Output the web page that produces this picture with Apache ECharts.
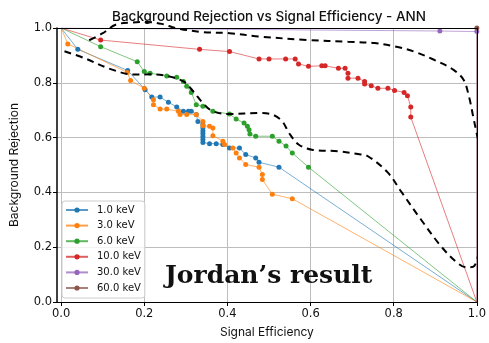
<!DOCTYPE html>
<html><head><meta charset="utf-8">
<script src="https://cdn.jsdelivr.net/npm/echarts@6/dist/echarts.min.js"></script>
<style>html,body{margin:0;padding:0;background:#fff}#c{width:489px;height:343px}</style>
</head><body><div id="c"></div>
<script>
var seriesNames = ['1.0 keV','3.0 keV','6.0 keV','10.0 keV','30.0 keV','60.0 keV'];
var seriesColors = ['#1f77b4','#ff7f0e','#2ca02c','#d62728','#9467bd','#8c564b'];
var xTicks = [0,0.2,0.4,0.6,0.8,1.0];

var data1 = [[0,1],[0.04,0.922],[0.16,0.845],[0.202,0.775],[0.218,0.748],[0.238,0.748],[0.258,0.729],[0.278,0.712],[0.294,0.696],[0.306,0.696],[0.313,0.696],[0.325,0.684],[0.329,0.659],[0.341,0.647],[0.341,0.636],[0.341,0.625],[0.341,0.615],[0.341,0.604],[0.341,0.593],[0.341,0.582],[0.357,0.578],[0.373,0.578],[0.389,0.575],[0.405,0.562],[0.429,0.562],[0.444,0.538],[0.468,0.526],[0.476,0.51],[0.524,0.492],[1,0]];
var data3 = [[0,1],[0.016,0.942],[0.159,0.838],[0.167,0.808],[0.2,0.78],[0.222,0.738],[0.222,0.72],[0.238,0.704],[0.254,0.704],[0.282,0.696],[0.286,0.684],[0.302,0.684],[0.325,0.684],[0.341,0.659],[0.341,0.643],[0.357,0.641],[0.365,0.635],[0.365,0.607],[0.389,0.587],[0.393,0.575],[0.413,0.562],[0.421,0.544],[0.429,0.526],[0.444,0.502],[0.476,0.492],[0.484,0.465],[0.484,0.447],[0.508,0.393],[0.556,0.377],[1,0]];
var data6 = [[0,1],[0.095,0.932],[0.183,0.877],[0.2,0.841],[0.214,0.835],[0.254,0.825],[0.278,0.82],[0.294,0.805],[0.302,0.787],[0.313,0.765],[0.325,0.72],[0.341,0.714],[0.365,0.696],[0.405,0.686],[0.421,0.668],[0.44,0.653],[0.448,0.641],[0.452,0.629],[0.454,0.613],[0.468,0.605],[0.508,0.605],[0.524,0.587],[0.541,0.569],[0.556,0.544],[0.595,0.492],[1,0]];
var data10 = [[0,1],[0.095,0.956],[0.333,0.922],[0.405,0.914],[0.476,0.887],[0.5,0.887],[0.54,0.887],[0.563,0.887],[0.571,0.869],[0.595,0.86],[0.627,0.862],[0.635,0.862],[0.667,0.853],[0.683,0.853],[0.69,0.835],[0.69,0.817],[0.714,0.817],[0.73,0.805],[0.73,0.796],[0.746,0.789],[0.762,0.78],[0.786,0.78],[0.802,0.772],[0.825,0.765],[0.833,0.753],[0.841,0.712],[0.841,0.675],[1,0]];
var data30 = [[0,1],[0.911,0.989],[1.0,0.987],[1.0,0.89],[1,0]];
var data60 = [[1,1],[1,0]];
var jordanCurve = [[0.008,0.915],[0.056,0.89],[0.119,0.85],[0.175,0.83],[0.214,0.831],[0.254,0.825],[0.294,0.805],[0.317,0.77],[0.341,0.726],[0.365,0.696],[0.405,0.686],[0.476,0.69],[0.508,0.684],[0.532,0.659],[0.548,0.617],[0.571,0.575],[0.603,0.556],[0.667,0.55],[0.714,0.54],[0.738,0.532],[0.786,0.472],[0.817,0.405],[0.865,0.302],[0.913,0.205],[0.952,0.144],[0.976,0.126],[0.994,0.132],[1.007,0.205],[1.015,0.302],[1.016,0.423],[1.009,0.544],[0.999,0.62],[0.991,0.678],[0.981,0.75],[0.968,0.811],[0.944,0.847],[0.897,0.884],[0.849,0.914],[0.802,0.933],[0.754,0.945],[0.69,0.95],[0.595,0.956],[0.476,0.969],[0.405,0.981],[0.341,0.985],[0.278,0.999],[0.242,1.015],[0.207,1.022],[0.17,1.02],[0.131,1.012],[0.099,0.98],[0.06,0.95]];

var allData = [data1,data3,data6,data10,data30,data60];
var chart = echarts.init(document.getElementById('c'));
var series = allData.map(function(d,i){
  return {
    name: seriesNames[i], type:'line', xAxisIndex:0, yAxisIndex:0,
    data: d.map(function(p){
      var hidden = (p[0]===0&&p[1]===1)||(p[0]===1&&p[1]<0.95);
      return hidden ? {value:p, symbolSize:0} : {value:p};
    }),
    symbol:'circle', symbolSize:5, showSymbol:true,
    lineStyle:{width:0.8, color:seriesColors[i], opacity:0.75},
    itemStyle:{color:seriesColors[i], opacity:1},
    emphasis:{disabled:true}, animation:false, z:2
  };
});
series.push({
  name:'jordan', type:'line', data: jordanCurve, smooth:0.35, symbol:'none', clip:false,
  lineStyle:{width:2, color:'#000', type:[7,5]}, silent:true, animation:false, z:3
});
var tickFont = {fontFamily:'DejaVu Sans', fontSize:11.5, color:'#111'};
chart.setOption({
  animation:false,
  backgroundColor:'#fff',
  grid:{left:56, right:9, top:28, bottom:40, containLabel:false},
  legend:{data:seriesNames, orient:'vertical', left:62, top:201, padding:[4,4,5,3],
    itemWidth:22, itemHeight:6.5, itemGap:5.6,
    textStyle:{fontFamily:'DejaVu Sans', fontSize:10, color:'#111', lineHeight:10, padding:[0,0,0,4]},
    backgroundColor:'rgba(255,255,255,0.8)', borderColor:'#ccc', borderWidth:1, borderRadius:3},
  xAxis:[{type:'value', min:-0.01, max:1.0, position:'bottom',
    name:'Signal Efficiency', nameLocation:'middle', nameGap:24,
    nameTextStyle:{fontFamily:'Inter', fontSize:12, color:'#111'},
    axisLine:{show:true, onZero:false, lineStyle:{color:'#000', width:1}},
    axisTick:{show:true, length:4, customValues:xTicks, lineStyle:{color:'#000'}},
    axisLabel:Object.assign({customValues:xTicks, margin:6, formatter:function(v){return v.toFixed(1);}}, tickFont),
    splitLine:{show:true, lineStyle:{color:'#bdbdbd', width:1}}},
   {type:'value', min:-0.01, max:1.0, position:'top', z:10,
    axisLine:{show:true, onZero:false, lineStyle:{color:'#000', width:1}},
    axisTick:{show:false}, axisLabel:{show:false}, splitLine:{show:false}}],
  yAxis:[{type:'value', min:0, max:1, interval:0.2, position:'left',
    name:'Background Rejection', nameLocation:'middle', nameGap:37, nameRotate:90,
    nameTextStyle:{fontFamily:'Inter', fontSize:12, color:'#111'},
    axisLine:{show:true, onZero:false, lineStyle:{color:'#000', width:1.5}},
    axisTick:{show:true, length:4, lineStyle:{color:'#000'}},
    axisLabel:Object.assign({margin:5, formatter:function(v){return v.toFixed(1);}}, tickFont),
    splitLine:{show:true, lineStyle:{color:'#bdbdbd', width:1}}},
   {type:'value', min:0, max:1, position:'right', z:10,
    axisLine:{show:true, onZero:false, lineStyle:{color:'#000', width:1}},
    axisTick:{show:false}, axisLabel:{show:false}, splitLine:{show:false}}],
  graphic:[
    {type:'text', x:269, y:17, z:20,
     style:{text:'Background Rejection vs Signal Efficiency - ANN', font:'500 13.5px Inter', fill:'#111', textAlign:'center', textVerticalAlign:'middle'}},
    {type:'text', x:165, y:276, z:20,
     style:{text:'Jordan\u2019s result', font:'bold 25px "DejaVu Serif"', fill:'#111', textVerticalAlign:'middle'}}],
  series:series
});
</script></body></html>
